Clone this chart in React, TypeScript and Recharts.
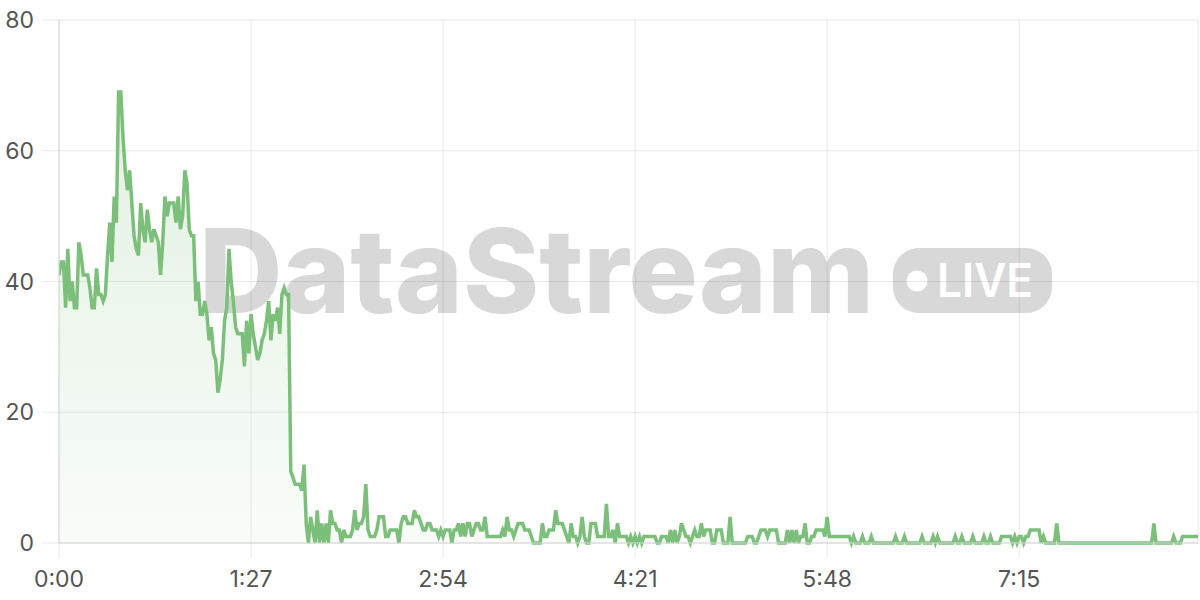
import { AreaChart, Area, XAxis, YAxis, CartesianGrid } from 'recharts';

// viewers per second (t = index in seconds)
const VIEWERS = [
  41, 43, 43, 36, 45, 37, 40, 36, 36, 46,
  44, 41, 41, 41, 39, 36, 36, 42, 38, 38,
  37, 38, 44, 49, 43, 53, 49, 69, 69, 62,
  57, 54, 57, 52, 47, 45, 44, 52, 48, 46,
  51, 48, 46, 48, 47, 46, 41, 46, 53, 50,
  52, 52, 52, 49, 53, 48, 50, 57, 55, 48,
  47, 47, 37, 40, 35, 35, 37, 35, 31, 33,
  29, 28, 23, 25, 28, 34, 36, 45, 40, 37,
  33, 32, 32, 32, 27, 34, 29, 35, 32, 30,
  28, 29, 31, 32, 34, 37, 31, 35, 34, 36,
  32, 38, 39, 38, 38, 11, 10, 9, 9, 9,
  8, 12, 3, 0, 4, 2, 0, 5, 0, 3,
  0, 3, 0, 5, 3, 3, 2, 2, 0, 2,
  1, 1, 1, 2, 5, 2, 3, 3, 4, 9,
  2, 1, 1, 1, 2, 4, 4, 4, 1, 1,
  2, 2, 2, 2, 0, 3, 4, 4, 3, 3,
  3, 5, 4, 4, 3, 2, 2, 3, 3, 2,
  2, 2, 1, 2, 1, 2, 2, 2, 0, 2,
  2, 3, 1, 3, 1, 3, 3, 1, 2, 3,
  3, 2, 2, 4, 1, 1, 1, 1, 1, 1,
  1, 2, 1, 4, 2, 2, 1, 2, 3, 3,
  3, 2, 2, 2, 1, 0, 0, 0, 0, 3,
  1, 1, 2, 2, 2, 5, 3, 3, 3, 2,
  1, 0, 3, 1, 1, 0, 1, 4, 1, 0,
  0, 3, 3, 3, 1, 1, 1, 1, 6, 1,
  1, 2, 0, 3, 1, 1, 1, 1, 0, 1,
  0, 1, 0, 1, 0, 1, 1, 1, 1, 1,
  1, 0, 0, 1, 1, 1, 0, 2, 0, 2,
  0, 1, 3, 2, 1, 1, 0, 1, 2, 1,
  1, 3, 1, 2, 2, 2, 0, 0, 2, 2,
  2, 0, 0, 0, 4, 0, 0, 0, 0, 0,
  0, 0, 1, 1, 1, 0, 0, 1, 2, 2,
  2, 1, 2, 2, 2, 2, 0, 0, 0, 0,
  2, 0, 2, 0, 2, 0, 1, 1, 3, 0,
  0, 1, 1, 2, 2, 2, 2, 1, 4, 1,
  1, 1, 1, 1, 1, 1, 1, 1, 1, 0,
  1, 0, 0, 0, 1, 0, 0, 0, 1, 0,
  0, 0, 0, 0, 0, 0, 0, 0, 0, 1,
  0, 0, 0, 1, 0, 0, 0, 0, 0, 0,
  0, 1, 0, 0, 0, 0, 1, 0, 1, 0,
  0, 0, 0, 0, 0, 0, 1, 0, 0, 1,
  0, 0, 0, 0, 1, 0, 0, 0, 0, 1,
  0, 0, 1, 0, 0, 0, 0, 1, 1, 1,
  1, 1, 0, 1, 0, 1, 1, 0, 1, 1,
  2, 2, 2, 2, 2, 0, 1, 0, 0, 0,
  0, 0, 3, 0, 0, 0, 0, 0, 0, 0,
  0, 0, 0, 0, 0, 0, 0, 0, 0, 0,
  0, 0, 0, 0, 0, 0, 0, 0, 0, 0,
  0, 0, 0, 0, 0, 0, 0, 0, 0, 0,
  0, 0, 0, 0, 0, 0, 3, 0, 0, 0,
  0, 0, 0, 0, 0, 1, 0, 0, 0, 1,
  1, 1, 1, 1, 1, 1, 1
];

const X_TICKS = [0, 87, 174, 261, 348, 435];
const Y_TICKS = [0, 20, 40, 60, 80];

const LINE = '#7bbf7b';
const TICK_FONT = { fill: '#555', fontSize: 23, fontFamily: 'Inter, "Liberation Sans", sans-serif' };
const WM_GREY = '#d8d8d8';

const data = VIEWERS.map((v, i) => ({ t: i, v }));

const fmtTime = (s: number) => `${Math.floor(s / 60)}:${String(s % 60).padStart(2, '0')}`;

const Watermark = () => (
  <svg width={1200} height={600} style={{ position: 'absolute', left: 0, top: 0 }}>
    <text
      x={199}
      y={313}
      fontFamily="Inter, 'Liberation Sans', sans-serif"
      fontWeight={800}
      fontSize={117}
      fill={WM_GREY}
      textLength={675}
      lengthAdjust="spacingAndGlyphs"
    >
      DataStream
    </text>
    <rect x={893} y={248} width={159} height={65} rx={26} fill={WM_GREY} />
    <circle cx={917} cy={281} r={10.5} fill="#fff" />
    <text
      x={937}
      y={297}
      fontFamily="Inter, 'Liberation Sans', sans-serif"
      fontWeight={600}
      fontSize={46}
      fill="#fff"
      textLength={96}
      lengthAdjust="spacingAndGlyphs"
    >
      LIVE
    </text>
  </svg>
);

export default function App() {
  return (
    <div style={{ position: 'absolute', left: 0, top: 0, width: 1200, height: 600, background: '#fff' }}>
      <Watermark />
      <div style={{ position: 'absolute', left: 0, top: 0 }}>
        <AreaChart width={1200} height={600} data={data} margin={{ top: 20, right: 2, bottom: 0, left: 0 }}>
          <defs>
            <linearGradient id="viewFill" x1="0" y1="0" x2="0" y2="1">
              <stop offset="0%" stopColor={LINE} stopOpacity={0.36} />
              <stop offset="100%" stopColor={LINE} stopOpacity={0.08} />
            </linearGradient>
          </defs>
          <CartesianGrid stroke="rgba(0,0,0,0.085)" />
          <XAxis
            type="number"
            dataKey="t"
            domain={[0, 516]}
            ticks={X_TICKS}
            tickFormatter={fmtTime}
            height={57}
            tickSize={15}
            tickMargin={13}
            tick={TICK_FONT}
            axisLine={{ stroke: '#d6d6d6' }}
            tickLine={{ stroke: 'rgba(0,0,0,0.085)' }}
            allowDataOverflow
          />
          <YAxis
            type="number"
            domain={[0, 80]}
            ticks={Y_TICKS}
            width={59}
            tickSize={16}
            tickMargin={9}
            tick={TICK_FONT}
            axisLine={{ stroke: '#d6d6d6' }}
            tickLine={{ stroke: 'rgba(0,0,0,0.085)' }}
          />
          <Area
            type="linear"
            dataKey="v"
            stroke={LINE}
            strokeWidth={3.5}
            fill="url(#viewFill)"
            dot={false}
            activeDot={false}
            isAnimationActive={false}
          />
        </AreaChart>
      </div>
    </div>
  );
}
